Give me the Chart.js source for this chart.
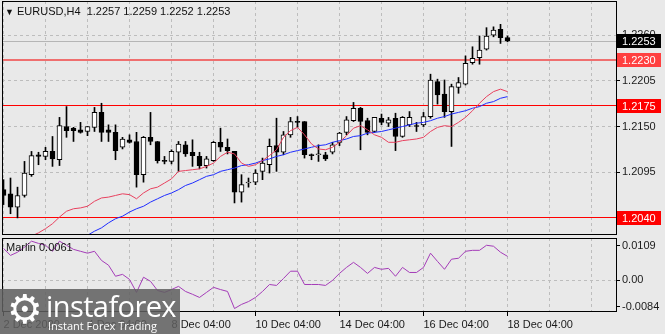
<!DOCTYPE html>
<html>
<head>
<meta charset="utf-8">
<script src="https://cdn.jsdelivr.net/npm/chart.js@4"></script>
<style>
body { margin: 0; width: 665px; height: 334px; overflow: hidden; position: relative; background: #e9e9e9; font-family: "Liberation Sans", Arial, sans-serif; }
canvas { position: absolute; left: 0; }
#main { top: 0; }
#sub { top: 236px; }
#head { position: absolute; left: 5px; top: 5px; font-size: 11px; color: #111; white-space: pre; }
#head span { font-size: 9px; }
#ind { position: absolute; left: 6px; top: 241px; font-size: 11px; color: #111; }
#logo { position: absolute; left: 0; top: 289px; width: 180px; height: 45px; background: rgba(96,96,96,0.86); color: #fff; }
#logo .gear { position: absolute; left: 7px; top: -3px; font-size: 40px; font-family: "DejaVu Sans"; }
#logo .big { position: absolute; left: 46px; top: -3px; font-size: 29px; font-family: "Open Sans"; letter-spacing: -0.6px; }
#logo .small { position: absolute; left: 48px; top: 29px; font-size: 11px; font-family: "Open Sans"; }
</style>
</head>
<body>
<canvas id="main" width="665" height="236"></canvas>
<canvas id="sub" width="665" height="98"></canvas>
<div id="head"><span>▼</span> EURUSD,H4  1.2257 1.2259 1.2252 1.2253</div>
<div id="ind">Marlin 0.0061</div>
<div id="logo"><div class="gear">⚙</div><div class="big">instaforex</div><div class="small">Instant Forex Trading</div></div>
<script>
// H4 candles, 2 Dec 04:00 .. 18 Dec 04:00
const opens = [1.2074,1.2069,1.2053,1.2067,1.2092,1.2116,1.2114,1.2120,1.2110,1.2150,1.2148,1.2146,1.2144,1.2149,1.2167,1.2146,1.2143,1.2125,1.2134,1.2132,1.2092,1.2137,1.2132,1.2109,1.2108,1.2119,1.2128,1.2119,1.2114,1.2103,1.2109,1.2131,1.2125,1.2120,1.2071,1.2082,1.2083,1.2096,1.2104,1.2127,1.2119,1.2140,1.2156,1.2156,1.2116,1.2116,1.2116,1.2119,1.2131,1.2143,1.2157,1.2172,1.2157,1.2144,1.2160,1.2154,1.2160,1.2138,1.2152,1.2151,1.2152,1.2162,1.2204,1.2189,1.2168,1.2197,1.2201,1.2227,1.2233,1.2243,1.2260,1.2267,1.2257];
const highs = [1.2086,1.2088,1.2077,1.2108,1.2120,1.2119,1.2125,1.2138,1.2161,1.2174,1.2149,1.2155,1.2150,1.2173,1.2178,1.2152,1.2152,1.2137,1.2140,1.2143,1.2138,1.2167,1.2132,1.2114,1.2122,1.2132,1.2132,1.2134,1.2119,1.2114,1.2132,1.2148,1.2135,1.2120,1.2092,1.2088,1.2098,1.2112,1.2135,1.2160,1.2144,1.2161,1.2162,1.2156,1.2117,1.2128,1.2119,1.2131,1.2143,1.2162,1.2179,1.2173,1.2160,1.2161,1.2165,1.2161,1.2166,1.2162,1.2168,1.2155,1.2167,1.2213,1.2207,1.2206,1.2201,1.2209,1.2235,1.2246,1.2259,1.2269,1.2270,1.2273,1.2259];
const lows = [1.2056,1.2045,1.2040,1.2065,1.2090,1.2104,1.2110,1.2102,1.2103,1.2137,1.2132,1.2142,1.2139,1.2144,1.2132,1.2132,1.2110,1.2123,1.2130,1.2077,1.2083,1.2128,1.2106,1.2105,1.2105,1.2096,1.2114,1.2102,1.2099,1.2100,1.2108,1.2120,1.2117,1.2058,1.2059,1.2077,1.2080,1.2086,1.2094,1.2096,1.2116,1.2137,1.2149,1.2112,1.2110,1.2108,1.2109,1.2117,1.2127,1.2140,1.2156,1.2122,1.2140,1.2143,1.2152,1.2150,1.2121,1.2137,1.2150,1.2144,1.2150,1.2160,1.2177,1.2161,1.2126,1.2190,1.2200,1.2225,1.2225,1.2242,1.2258,1.2250,1.2252];
const closes = [1.2067,1.2053,1.2067,1.2094,1.2115,1.2114,1.2120,1.2111,1.2151,1.2145,1.2145,1.2143,1.2150,1.2167,1.2143,1.2143,1.2121,1.2135,1.2131,1.2092,1.2137,1.2132,1.2109,1.2108,1.2120,1.2129,1.2117,1.2115,1.2103,1.2111,1.2131,1.2125,1.2121,1.2071,1.2080,1.2083,1.2094,1.2106,1.2126,1.2119,1.2140,1.2156,1.2155,1.2116,1.2115,1.2117,1.2111,1.2128,1.2142,1.2158,1.2172,1.2156,1.2143,1.2161,1.2155,1.2158,1.2138,1.2161,1.2161,1.2150,1.2162,1.2206,1.2188,1.2168,1.2198,1.2203,1.2226,1.2232,1.2242,1.2259,1.2266,1.2257,1.2253];

// moving averages
const redMA = [1.2001,1.2007,1.2011,1.2016,1.2018,1.2022,1.2027,1.2033,1.2041,1.2048,1.2051,1.2052,1.2054,1.2060,1.2064,1.2065,1.2067,1.2069,1.2068,1.2063,1.2070,1.2075,1.2077,1.2082,1.2087,1.2096,1.2097,1.2098,1.2099,1.2102,1.2106,1.2114,1.2119,1.2117,1.2106,1.2102,1.2104,1.2109,1.2115,1.2122,1.2137,1.2145,1.2149,1.2140,1.2129,1.2123,1.2122,1.2125,1.2131,1.2139,1.2148,1.2151,1.2146,1.2140,1.2137,1.2131,1.2131,1.2133,1.2134,1.2135,1.2137,1.2144,1.2149,1.2151,1.2150,1.2155,1.2161,1.2169,1.2178,1.2186,1.2192,1.2195,1.2192];
const blueMA = [1.1962,1.1969,1.1973,1.1978,1.1983,1.1988,1.1993,1.1998,1.2002,1.2007,1.2012,1.2016,1.2019,1.2024,1.2028,1.2034,1.2039,1.2042,1.2047,1.2051,1.2054,1.2059,1.2063,1.2067,1.2070,1.2074,1.2079,1.2082,1.2086,1.2090,1.2092,1.2096,1.2098,1.2100,1.2103,1.2104,1.2106,1.2109,1.2111,1.2114,1.2116,1.2119,1.2121,1.2123,1.2125,1.2127,1.2128,1.2131,1.2133,1.2135,1.2138,1.2139,1.2142,1.2143,1.2144,1.2146,1.2148,1.2150,1.2152,1.2154,1.2155,1.2157,1.2160,1.2162,1.2165,1.2167,1.2169,1.2172,1.2174,1.2178,1.2180,1.2184,1.2186];

// Marlin oscillator
const marlin = [0.0101,0.0079,0.0089,0.0105,0.0124,0.0117,0.0111,0.0092,0.0124,0.0111,0.0098,0.0092,0.0086,0.0092,0.0063,0.0048,0.0013,0.0019,0.0003,-0.0038,0.0010,-0.0003,-0.0032,-0.0038,-0.0029,-0.0019,-0.0035,-0.0044,-0.0054,-0.0038,-0.0022,-0.0029,-0.0035,-0.0089,-0.0076,-0.0067,-0.0054,-0.0035,-0.0013,-0.0016,0.0006,0.0029,0.0029,-0.0013,-0.0013,-0.0013,-0.0016,0.0000,0.0022,0.0041,0.0057,0.0041,0.0022,0.0041,0.0035,0.0038,0.0013,0.0041,0.0025,0.0025,0.0041,0.0086,0.0060,0.0035,0.0067,0.0070,0.0092,0.0095,0.0095,0.0111,0.0108,0.0089,0.0076];

const xLabels = ["2 Dec 2020", "4 Dec 04:00", "8 Dec 04:00", "10 Dec 04:00", "14 Dec 04:00", "16 Dec 04:00", "18 Dec 04:00"];
const priceTicks = [1.2040, 1.2095, 1.2150, 1.2205, 1.2260];
const marlinTicks = [-0.0084, 0, 0.0109];
const levels = [{ v: 1.2230, line: "rgba(240,70,70,0.75)", w: 2, box: "#ff4040" }, { v: 1.2175, line: "#ff0000", w: 1, box: "#ff0000" }, { v: 1.2040, line: "#ff0000", w: 1, box: "#ff0000" }];
const lastPrice = 1.2253;

const barsPerDay = 6;
const xMin = -1.5 / 7, xMax = xMin + 614 / 7;
const gridTicks = [];
for (let i = 0; i <= 84; i += barsPerDay) gridTicks.push(i);

Chart.defaults.font.family = "Liberation Sans";
Chart.defaults.font.size = 11;
Chart.defaults.color = "#1a1a1a";

const grey = "#bdbdbd";

function noPad(s) {
  s.paddingTop = 0; s.paddingBottom = 0; s.paddingLeft = 0; s.paddingRight = 0;
}

const frame = {
  id: "frame",
  afterDraw(chart) {
    const a = chart.chartArea, c = chart.ctx;
    c.save();
    c.strokeStyle = "#000";
    c.lineWidth = 1;
    c.strokeRect(a.left + 0.5, a.top + 0.5, a.right - a.left, a.bottom - a.top - 1);
    c.restore();
  }
};

const levelLines = {
  id: "levelLines",
  beforeDatasetsDraw(chart) {
    const a = chart.chartArea, c = chart.ctx, y = chart.scales.y;
    c.save();
    c.fillStyle = "#b5b5b5";
    c.fillRect(a.left, Math.round(y.getPixelForValue(lastPrice)), a.right - a.left, 1);
    levels.forEach(l => {
      c.fillStyle = l.line;
      c.fillRect(a.left, Math.round(y.getPixelForValue(l.v) - l.w / 2), a.right - a.left, l.w);
    });
    c.restore();
  },
  afterDraw(chart) {
    const a = chart.chartArea, c = chart.ctx, y = chart.scales.y;
    c.save();
    c.font = "11px 'Liberation Sans'";
    c.textBaseline = "middle";
    const box = (v, bg) => {
      const p = Math.round(y.getPixelForValue(v));
      c.fillStyle = bg;
      c.fillRect(a.right + 1, p - 7, 44, 14);
      c.fillStyle = "#fff";
      c.fillText(v.toFixed(4), a.right + 6, p + 0.5);
    };
    levels.forEach(l => box(l.v, l.box));
    box(lastPrice, "#000");
    c.restore();
  }
};

function candleData() {
  const wicks = [], bodies = [], fills = [];
  opens.forEach((o, i) => {
    wicks.push({ x: i, y: [lows[i], highs[i]] });
    bodies.push({ x: i, y: [o, closes[i]] });
    fills.push(closes[i] >= o ? "#ffffff" : "#000000");
  });
  return { wicks, bodies, fills };
}

function points(arr) {
  return arr.map((v, i) => ({ x: i, y: v }));
}

function isLabelTick(v) {
  return v % 12 === 0 && v / 12 < xLabels.length;
}

function xScale(showLabels) {
  return {
    type: "linear", min: xMin, max: xMax, offset: false,
    afterBuildTicks: s => { s.ticks = gridTicks.map(v => ({ value: v })); },
    afterFit: s => { s.height = showLabels ? 22 : 0; noPad(s); },
    border: { display: false, dash: [3, 3] },
    grid: {
      offset: false, color: grey, drawTicks: showLabels, tickLength: 4,
      tickColor: ctx => (ctx.tick && isLabelTick(ctx.tick.value)) ? "#000" : "rgba(0,0,0,0)",
      tickBorderDash: []
    },
    ticks: {
      display: showLabels, autoSkip: false, maxRotation: 0, align: "start", padding: 2,
      callback: v => isLabelTick(v) ? xLabels[v / 12] : ""
    }
  };
}

function renderMain() {
  const cd = candleData();
  new Chart(document.getElementById("main"), {
    type: "bar",
    data: {
      datasets: [
        { type: "line", data: points(redMA), borderColor: "#e8405e", borderWidth: 1, pointRadius: 0, order: 1 },
        { type: "line", data: points(blueMA), borderColor: "#1e2cff", borderWidth: 1, pointRadius: 0, order: 1 },
        { data: cd.bodies, backgroundColor: cd.fills, borderColor: "#000", borderWidth: 1, borderSkipped: false, barThickness: 5, minBarLength: 1, grouped: false, order: 2 },
        { data: cd.wicks, backgroundColor: "#000", borderWidth: 0, barThickness: 1, grouped: false, order: 3 }
      ]
    },
    options: {
      responsive: false, animation: false,
      layout: { padding: { left: 2, top: 1, right: 0, bottom: 1 }, autoPadding: false },
      plugins: { legend: { display: false }, tooltip: { enabled: false } },
      scales: {
        x: xScale(false),
        y: {
          position: "right", min: 1.20194, max: 1.23011,
          afterBuildTicks: s => { s.ticks = priceTicks.map(v => ({ value: v })); },
          afterFit: s => { s.width = 49; noPad(s); },
          border: { display: false, dash: [3, 3] },
          grid: { color: grey, tickLength: 4, tickColor: "#000", tickBorderDash: [] },
          ticks: { padding: 2, callback: v => v.toFixed(4) }
        }
      }
    },
    plugins: [levelLines, frame]
  });
}

function renderMarlin() {
  new Chart(document.getElementById("sub"), {
    type: "line",
    data: {
      datasets: [{ data: points(marlin), borderColor: "#a43cb8", borderWidth: 1, pointRadius: 0 }]
    },
    options: {
      responsive: false, animation: false,
      layout: { padding: { left: 2, top: 2, right: 0, bottom: 0 }, autoPadding: false },
      plugins: { legend: { display: false }, tooltip: { enabled: false } },
      scales: {
        x: xScale(true),
        y: {
          position: "right", min: -0.0100, max: 0.0134,
          afterBuildTicks: s => { s.ticks = marlinTicks.map(v => ({ value: v })); },
          afterFit: s => { s.width = 49; noPad(s); },
          border: { display: false, dash: [3, 3] },
          grid: { color: ctx => (ctx.tick && ctx.tick.value === 0) ? grey : "rgba(0,0,0,0)", tickLength: 4, tickColor: "#000", tickBorderDash: [] },
          ticks: { padding: 2, callback: v => v === 0 ? "0.00" : v.toFixed(4) }
        }
      }
    },
    plugins: [frame]
  });
}

renderMain();
renderMarlin();
</script>
</body>
</html>
